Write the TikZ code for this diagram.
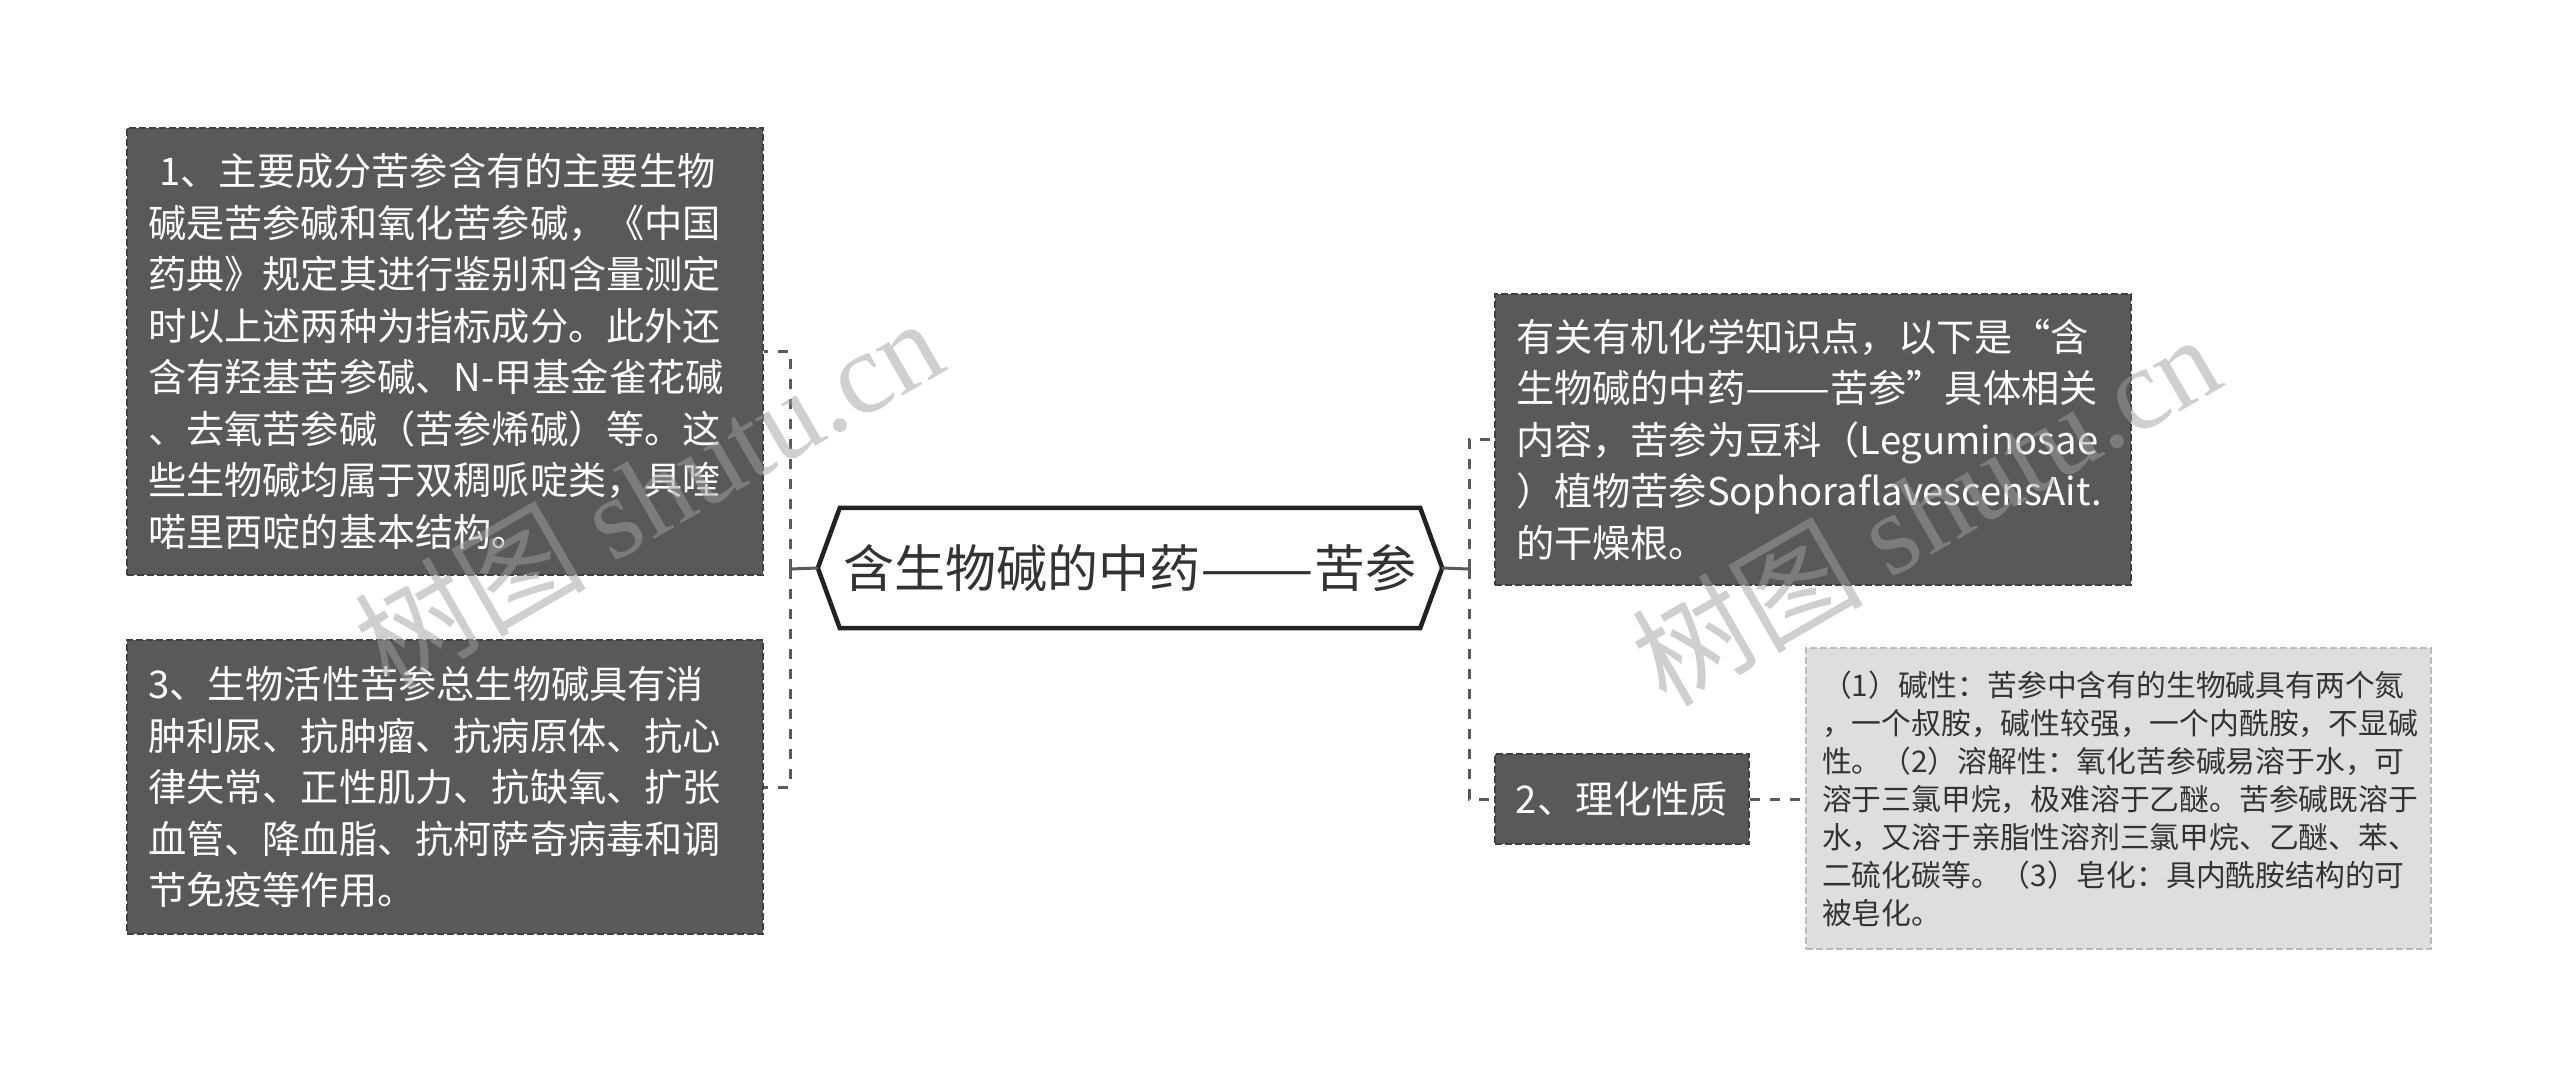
\documentclass[tikz,border=0pt]{standalone}
\usepackage{fontspec}
\setmainfont{Noto Sans CJK SC}
\newfontfamily\wmfont{Liberation Serif}
\newfontfamily\wmcjk{Noto Sans CJK SC}
\newcommand{\longdash}{{\addfontfeature{FakeStretch=1.33}——}}
\usetikzlibrary{calc}
\definecolor{darkfill}{HTML}{595959}
\definecolor{darkedge}{HTML}{404040}
\definecolor{lightfill}{HTML}{DEDEDE}
\definecolor{lightedge}{HTML}{BBBBBB}
\definecolor{conn}{HTML}{5A5A5A}
\definecolor{txtdark}{HTML}{333333}
\definecolor{hexedge}{HTML}{222222}
\definecolor{wm}{HTML}{A0A0A0}
\tikzset{
  darkbox/.style={rectangle, fill=darkfill, draw=darkedge, line width=2pt,
    dash pattern=on 7pt off 3pt, text=white, inner xsep=21pt, inner ysep=0pt,
    align=left, font=\fontsize{38.2pt}{51.5pt}\selectfont},
  lightbox/.style={rectangle, fill=lightfill, draw=lightedge, line width=2pt,
    dash pattern=on 7pt off 3pt, text=txtdark, inner xsep=16pt, inner ysep=0pt,
    align=left, font=\fontsize{29.8pt}{38pt}\selectfont},
  centerbox/.style={rectangle, inner sep=0pt, text=txtdark,
    font=\fontsize{51pt}{60pt}\selectfont},
  hexline/.style={draw=hexedge, line width=4.5pt, line join=miter},
  dashconn/.style={draw=conn, line width=3pt, dash pattern=on 10pt off 10pt},
  solidconn/.style={draw=conn, line width=3pt},
  watermark/.style={text=wm, opacity=0.5, rotate=30, inner sep=0pt,
    font=\fontsize{116pt}{120pt}\selectfont}
}
\begin{document}
\begin{tikzpicture}[x=1pt,y=-1pt]
\useasboundingbox (0,0) rectangle (2560,1078);
\fill[white] (0,0) rectangle (2560,1078);

% center
\node[centerbox, minimum width=624pt, minimum height=120pt] (c) at (1130,568) {含生物碱的中药\longdash 苦参};
\draw[hexline] (c.west) -- ([xshift=22pt]c.north west) -- ([xshift=-22pt]c.north east)
  -- (c.east) -- ([xshift=-22pt]c.south east) -- ([xshift=22pt]c.south west) -- cycle;

% left boxes
\node[darkbox, text width=594pt, minimum height=447pt] (b1) at (445,351.5) {%
\hspace*{0.3em}1、主要成分苦参含有的主要生物\\
碱是苦参碱和氧化苦参碱，《中国\\
药典》规定其进行鉴别和含量测定\\
时以上述两种为指标成分。此外还\\
含有羟基苦参碱、N-甲基金雀花碱\\
、去氧苦参碱（苦参烯碱）等。这\\
些生物碱均属于双稠哌啶类，具喹\\
喏里西啶的基本结构。};

\node[darkbox, text width=594pt, minimum height=294pt] (b3) at (445,787) {%
3、生物活性苦参总生物碱具有消\\
肿利尿、抗肿瘤、抗病原体、抗心\\
律失常、正性肌力、抗缺氧、扩张\\
血管、降血脂、抗柯萨奇病毒和调\\
节免疫等作用。};

% right boxes
\node[darkbox, text width=594pt, minimum height=291pt] (br) at (1813,439.5) {%
有关有机化学知识点，以下是“含\\
生物碱的中药\longdash 苦参”具体相关\\
内容，苦参为豆科（Leguminosae\\
）植物苦参SophoraflavescensAit.\\
的干燥根。};

\node[darkbox, align=center, minimum width=254pt, minimum height=90pt, inner xsep=0pt] (b2) at (1622,799) {2、理化性质};

\node[lightbox, text width=593pt, minimum height=301pt] (lt) at (2118.5,798.5) {%
（1）碱性：苦参中含有的生物碱具有两个氮\\
，一个叔胺，碱性较强，一个内酰胺，不显碱\\
性。（2）溶解性：氧化苦参碱易溶于水，可\\
溶于三氯甲烷，极难溶于乙醚。苦参碱既溶于\\
水，又溶于亲脂性溶剂三氯甲烷、乙醚、苯、\\
二硫化碳等。（3）皂化：具内酰胺结构的可\\
被皂化。};

% connectors
\coordinate (jl) at (790,569);
\coordinate (jr) at (1469,569);
\draw[solidconn] (c.west) -- (jl);
\draw[solidconn] ($(jl)+(0,-9)$) -- ($(jl)+(0,9)$);
\draw[dashconn] (jl) |- (b1.east);
\draw[dashconn] (jl) |- (b3.east);
\draw[solidconn] (c.east) -- (jr);
\draw[solidconn] ($(jr)+(0,-9)$) -- ($(jr)+(0,9)$);
\draw[dashconn] (jr) |- (br.west);
\draw[dashconn] (jr) |- (b2.west);
\draw[dashconn] (b2.east) -- (lt.west |- b2.east);

% watermarks
\node[watermark] (wm1) at (648,492) {\wmcjk 树图\ \wmfont shutu.cn};
\node[watermark] (wm2) at (1925,508) {\wmcjk 树图\ \wmfont shutu.cn};
\end{tikzpicture}
\end{document}
